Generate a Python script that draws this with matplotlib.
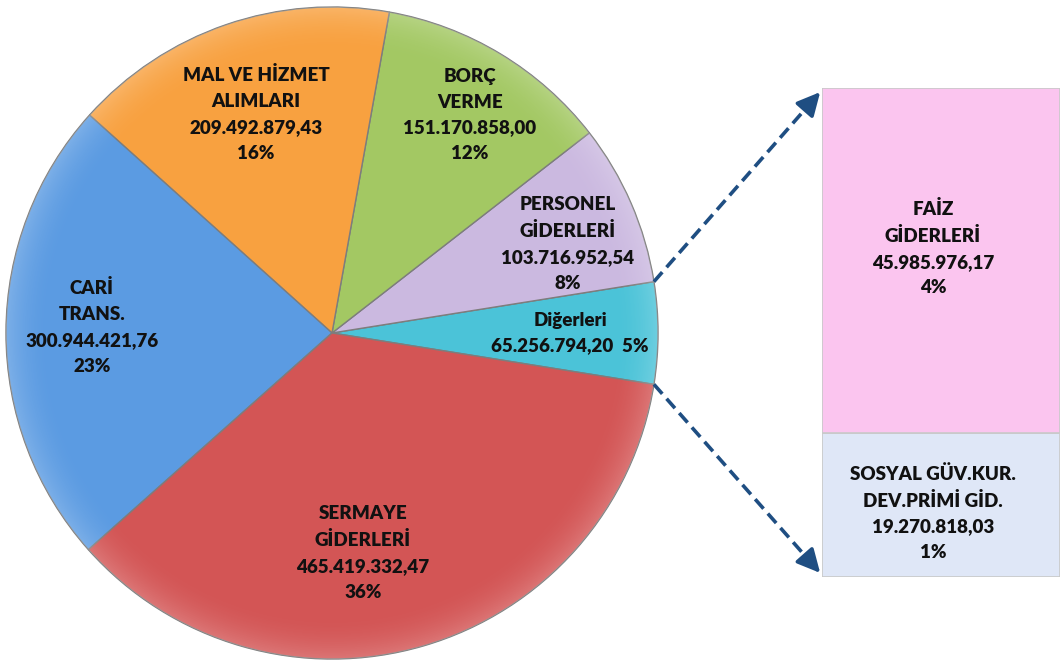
import matplotlib.pyplot as plt
import numpy as np

plt.rcParams['font.family'] = ['Lato', 'DejaVu Sans']

# Ana gider kalemleri (TL)
pie_names = ['Diğerleri', 'PERSONEL\nGİDERLERİ', 'BORÇ\nVERME',
             'MAL VE HİZMET\nALIMLARI', 'CARİ\nTRANS.', 'SERMAYE\nGİDERLERİ']
pie_values = [65256794.20, 103716952.54, 151170858.00,
              209492879.43, 300944421.76, 465419332.47]
pie_colors = ['#4bc3d8', '#cbb9e0', '#a3c863', '#f8a140', '#5b9be2', '#d35555']

# "Diğerleri" kaleminin dökümü (alttan üste)
bar_names = ['SOSYAL GÜV.KUR.\nDEV.PRİMİ GİD.', 'FAİZ\nGİDERLERİ']
bar_values = [19270818.03, 45985976.17]
bar_colors = ['#dfe7f7', '#fbc5ef']

W, H = 1060, 661
total = sum(pie_values)


def tl(v):
    s = f'{v:,.2f}'
    return s.replace(',', 'X').replace('.', ',').replace('X', '.')


def pct(v):
    return f'{round(v / total * 100):.0f}%'


fig = plt.figure(figsize=(W / 100, H / 100), dpi=100, facecolor='white')
ax = fig.add_axes([0, 0, 1, 1])
ax.set_zorder(2)

cx, cy, R = 332, H - 333, 326
start = -pie_values[0] / total * 360 / 2
wedges, _ = ax.pie(pie_values, colors=pie_colors, center=(cx, cy), radius=R,
                   startangle=start, counterclock=True,
                   wedgeprops=dict(edgecolor='#7d7d7d', linewidth=1.0))

# parlak kenar efekti
yy, xx = np.mgrid[0:H, 0:W]
rr = np.hypot(xx - cx, (H - yy) - cy) / R
shine = np.zeros((H, W, 4))
shine[..., :3] = 1.0
shine[..., 3] = np.clip((rr - 0.86) / 0.14, 0, 1) ** 2 * 0.2
for w in wedges:
    im = ax.imshow(shine, extent=(0, W, 0, H), origin='upper', zorder=2)
    im.set_clip_path(w)

ax.set_xlim(0, W)
ax.set_ylim(0, H)
ax.set_aspect('equal')
ax.axis('off')

txt_kw = dict(ha='center', va='center', fontsize=13.5, fontweight=800,
              color='#111111', linespacing=1.62, zorder=5)

# etiketler (piksel konumları)
label_pos = [(570, 333), (568, 244), (470, 115), (256, 114), (92, 327), (363, 553)]
for i, (name, val) in enumerate(zip(pie_names, pie_values)):
    if i == 0:
        txt = f'{name}\n{tl(val)}  {pct(val)}'
    else:
        txt = f'{name}\n{tl(val)}\n{pct(val)}'
    x, y = label_pos[i]
    ax.text(x, H - y, txt, **txt_kw)

# sağdaki yığılmış çubuk
bx0, bx1, by0, by1 = 822, 1060, 88, 577
bax = fig.add_axes([bx0 / W, (H - by1) / H, (bx1 - bx0) / W, (by1 - by0) / H])
bax.set_zorder(1)
bottom = 0
for name, val, col in zip(bar_names, bar_values, bar_colors):
    bax.bar(0, val, bottom=bottom, width=1.0, color=col,
            edgecolor='#c9c9c9', linewidth=1.2)
    bottom += val
bax.set_xlim(-0.5, 0.5)
bax.set_ylim(0, sum(bar_values))
bax.axis('off')

bar_label_y = [513, 248]
for name, val, y in zip(bar_names, bar_values, bar_label_y):
    ax.text(933, H - y, f'{name}\n{tl(val)}\n{pct(val)}', **txt_kw)

# kesikli bağlantı okları
a_top = np.radians(start + pie_values[0] / total * 360)
a_bot = np.radians(start)
links = [((cx + R * np.cos(a_top), cy + R * np.sin(a_top)), (bx0, H - by0 - 2)),
         ((cx + R * np.cos(a_bot), cy + R * np.sin(a_bot)), (bx0, H - by1 + 2))]
arrow_col = '#1f4e82'
for (x0, y0), (x1, y1) in links:
    d = np.hypot(x1 - x0, y1 - y0)
    ux, uy = (x1 - x0) / d, (y1 - y0) / d
    ax.plot([x0, x1 - ux * 18], [y0, y1 - uy * 18], color=arrow_col, lw=2.6,
            linestyle=(0, (3.5, 1.8)), solid_capstyle='butt', zorder=6)
    ax.annotate('', xy=(x1, y1), xytext=(x1 - ux * 22, y1 - uy * 22),
                arrowprops=dict(arrowstyle='-|>,head_length=1.4,head_width=0.7',
                                color=arrow_col, lw=2.6), zorder=6)

fig.savefig('out.png', dpi=100, facecolor='white')
